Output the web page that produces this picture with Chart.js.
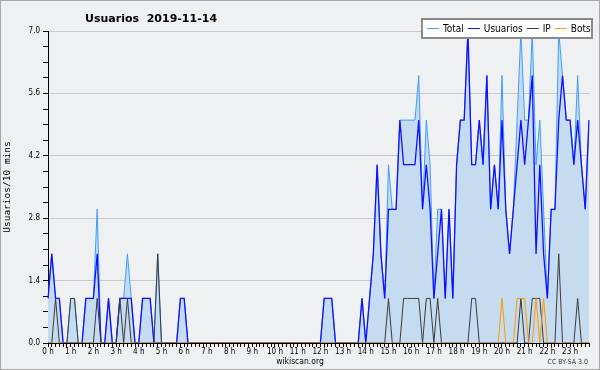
<!DOCTYPE html>
<html>
<head>
<meta charset="utf-8">
<script src="https://cdn.jsdelivr.net/npm/chart.js@4.4.1/dist/chart.umd.min.js"></script>
<style>
  body { margin: 0; background: #eff0f2; }
  canvas { display: block; }
</style>
</head>
<body>
<canvas id="usuarios-chart" width="600" height="370"></canvas>
<script>
// one value every 10 minutes, 6 per hour (one row = one hour)
const hourLabels = ["0 h", "1 h", "2 h", "3 h", "4 h", "5 h", "6 h", "7 h", "8 h", "9 h", "10 h", "11 h",
  "12 h", "13 h", "14 h", "15 h", "16 h", "17 h", "18 h", "19 h", "20 h", "21 h", "22 h", "23 h"];

const total = [
  1, 2, 1, 1, 0, 0,
  1, 1, 0, 0, 1, 1,
  1, 3, 0, 0, 1, 0,
  0, 1, 1, 2, 1, 0,
  0, 1, 1, 1, 0, 2,
  0, 0, 0, 0, 0, 1,
  1, 0, 0, 0, 0, 0,
  0, 0, 0, 0, 0, 0,
  0, 0, 0, 0, 0, 0,
  0, 0, 0, 0, 0, 0,
  0, 0, 0, 0, 0, 0,
  0, 0, 0, 0, 0, 0,
  0, 1, 1, 1, 0, 0,
  0, 0, 0, 0, 0, 1,
  0, 1, 2, 4, 2, 1,
  4, 3, 3, 5, 5, 5,
  5, 5, 6, 3, 5, 4,
  1, 3, 3, 1, 3, 1,
  4, 5, 5, 7, 4, 4,
  5, 4, 6, 3, 4, 3,
  6, 3, 2, 3, 5, 7,
  5, 5, 7, 4, 5, 3,
  1, 3, 3, 7, 6, 5,
  5, 4, 6, 4, 3, 5,
];

const usuarios = [
  1, 2, 1, 1, 0, 0,
  0, 0, 0, 0, 1, 1,
  1, 2, 0, 0, 1, 0,
  0, 1, 1, 1, 1, 0,
  0, 1, 1, 1, 0, 0,
  0, 0, 0, 0, 0, 1,
  1, 0, 0, 0, 0, 0,
  0, 0, 0, 0, 0, 0,
  0, 0, 0, 0, 0, 0,
  0, 0, 0, 0, 0, 0,
  0, 0, 0, 0, 0, 0,
  0, 0, 0, 0, 0, 0,
  0, 1, 1, 1, 0, 0,
  0, 0, 0, 0, 0, 1,
  0, 1, 2, 4, 2, 1,
  3, 3, 3, 5, 4, 4,
  4, 4, 5, 3, 4, 3,
  1, 2, 3, 1, 3, 1,
  4, 5, 5, 7, 4, 4,
  5, 4, 6, 3, 4, 3,
  5, 3, 2, 3, 4, 5,
  4, 5, 6, 2, 4, 2,
  1, 3, 3, 5, 6, 5,
  5, 4, 5, 4, 3, 5,
];

const ip = [
  0, 0, 1, 0, 0, 0,
  1, 1, 0, 0, 0, 0,
  0, 1, 0, 0, 0, 0,
  0, 1, 0, 1, 0, 0,
  0, 0, 0, 0, 0, 2,
  0, 0, 0, 0, 0, 0,
  0, 0, 0, 0, 0, 0,
  0, 0, 0, 0, 0, 0,
  0, 0, 0, 0, 0, 0,
  0, 0, 0, 0, 0, 0,
  0, 0, 0, 0, 0, 0,
  0, 0, 0, 0, 0, 0,
  0, 0, 0, 0, 0, 0,
  0, 0, 0, 0, 0, 0,
  0, 0, 0, 0, 0, 0,
  1, 0, 0, 0, 1, 1,
  1, 1, 1, 0, 1, 1,
  0, 1, 0, 0, 0, 0,
  0, 0, 0, 0, 1, 1,
  0, 0, 0, 0, 0, 0,
  0, 0, 0, 0, 0, 1,
  0, 0, 1, 1, 1, 0,
  0, 0, 0, 2, 0, 0,
  0, 0, 1, 0, 0, 0,
];

const bots = [
  0, 0, 0, 0, 0, 0,
  0, 0, 0, 0, 0, 0,
  0, 0, 0, 0, 0, 0,
  0, 0, 0, 0, 0, 0,
  0, 0, 0, 0, 0, 0,
  0, 0, 0, 0, 0, 0,
  0, 0, 0, 0, 0, 0,
  0, 0, 0, 0, 0, 0,
  0, 0, 0, 0, 0, 0,
  0, 0, 0, 0, 0, 0,
  0, 0, 0, 0, 0, 0,
  0, 0, 0, 0, 0, 0,
  0, 0, 0, 0, 0, 0,
  0, 0, 0, 0, 0, 0,
  0, 0, 0, 0, 0, 0,
  0, 0, 0, 0, 0, 0,
  0, 0, 0, 0, 0, 0,
  0, 0, 0, 0, 0, 0,
  0, 0, 0, 0, 0, 0,
  0, 0, 0, 0, 0, 0,
  1, 0, 0, 0, 1, 1,
  1, 0, 0, 1, 0, 1,
  0, 0, 0, 0, 0, 0,
  0, 0, 0, 0, 0, 0,
];

const yMax = 7;
const yMajor = 1.4;

// 144 slots, only the full hours get a label
const slots = total.map((v, i) => (i % 6 === 0 ? hourLabels[i / 6] : ""));

const condensed = "'DejaVu Sans Condensed', 'DejaVu Sans', sans-serif";

function isMajor(v) {
  return Math.abs(v / yMajor - Math.round(v / yMajor)) < 1e-6;
}

// background, frame, title, legend box and footer texts
const decor = {
  id: "decor",
  beforeDraw(chart) {
    const c = chart.ctx;
    c.save();
    c.fillStyle = "#eff0f2";
    c.fillRect(0, 0, chart.width, chart.height);
    c.restore();
  },
  afterDraw(chart) {
    const c = chart.ctx;
    c.save();
    c.strokeStyle = "#a8a8a8";
    c.lineWidth = 1;
    c.strokeRect(0.5, 0.5, chart.width - 1, chart.height - 1);

    c.fillStyle = "#000";
    c.font = "bold 11px 'DejaVu Sans', sans-serif";
    c.textBaseline = "alphabetic";
    c.fillText("Usuarios  2019-11-14", 85, 22);

    // legend
    c.fillStyle = "#fff";
    c.fillRect(422, 19, 170, 19);
    c.strokeStyle = "#8a8a8a";
    c.lineWidth = 2;
    c.strokeRect(422, 19, 170, 19);
    c.font = "10px " + condensed;
    c.textBaseline = "middle";
    let x = 427;
    chart.data.datasets.forEach((ds) => {
      c.strokeStyle = ds.borderColor;
      c.lineWidth = 1;
      c.beginPath();
      c.moveTo(x, 28.5);
      c.lineTo(x + 12, 28.5);
      c.stroke();
      c.fillStyle = "#000";
      c.fillText(ds.label, x + 16, 29);
      x += 16 + c.measureText(ds.label).width + 4;
    });

    c.textBaseline = "alphabetic";
    c.textAlign = "center";
    c.font = "8.5px " + condensed;
    c.fillStyle = "#000";
    c.fillText("wikiscan.org", 300, 364);
    c.textAlign = "right";
    c.font = "7px " + condensed;
    c.fillStyle = "#333";
    c.fillText("CC BY-SA 3.0", 588, 364);
    c.restore();
  },
};

const ctx = document.getElementById("usuarios-chart").getContext("2d");
const chart = new Chart(ctx, {
  type: "line",
  data: {
    labels: slots,
    datasets: [
      {
        label: "Total",
        data: total,
        borderColor: "#3f9dff",
        backgroundColor: "#c5dcf0",
        borderWidth: 1,
        fill: "origin",
        order: 4,
      },
      {
        label: "Usuarios",
        data: usuarios,
        borderColor: "#1010ff",
        borderWidth: 1.3,
        fill: false,
        order: 3,
      },
      {
        label: "IP",
        data: ip,
        borderColor: "#3a3a3a",
        borderWidth: 1,
        fill: false,
        order: 2,
      },
      {
        label: "Bots",
        data: bots,
        borderColor: "#ff9900",
        borderWidth: 1,
        fill: false,
        order: 1,
      },
    ],
  },
  options: {
    responsive: false,
    animation: false,
    devicePixelRatio: 1,
    elements: {
      point: { radius: 0 },
      line: { tension: 0 },
    },
    layout: {
      padding: { left: 0, right: 11, top: 31, bottom: 10 },
    },
    plugins: {
      legend: { display: false },
      title: { display: false },
      tooltip: { enabled: false },
    },
    scales: {
      x: {
        ticks: {
          autoSkip: false,
          maxRotation: 0,
          padding: 0,
          color: "#000",
          font: { family: condensed, size: 8 },
        },
        grid: {
          drawOnChartArea: false,
          tickLength: 4,
          tickColor: "#000",
        },
        border: { color: "#000" },
        afterFit(scale) {
          scale.height = 17;
        },
      },
      y: {
        min: 0,
        max: yMax,
        ticks: {
          stepSize: 0.35,
          maxTicksLimit: 30,
          padding: 3,
          color: "#000",
          font: { family: condensed, size: 8 },
          callback: (v) => (isMajor(v) ? v.toFixed(1) : ""),
        },
        grid: {
          color: (c) => (isMajor(c.tick.value) && c.tick.value > 0 ? "#c9c9c9" : "rgba(0,0,0,0)"),
          tickColor: "#000",
          tickLength: 5,
        },
        border: { color: "#000" },
        title: {
          display: true,
          text: "Usuarios/10 mins",
          color: "#000",
          font: { family: "'DejaVu Sans Mono', monospace", size: 9.5 },
          padding: { top: 2, bottom: 0 },
        },
        afterFit(scale) {
          scale.width = 48;
        },
      },
    },
  },
  plugins: [decor],
});
</script>
</body>
</html>
